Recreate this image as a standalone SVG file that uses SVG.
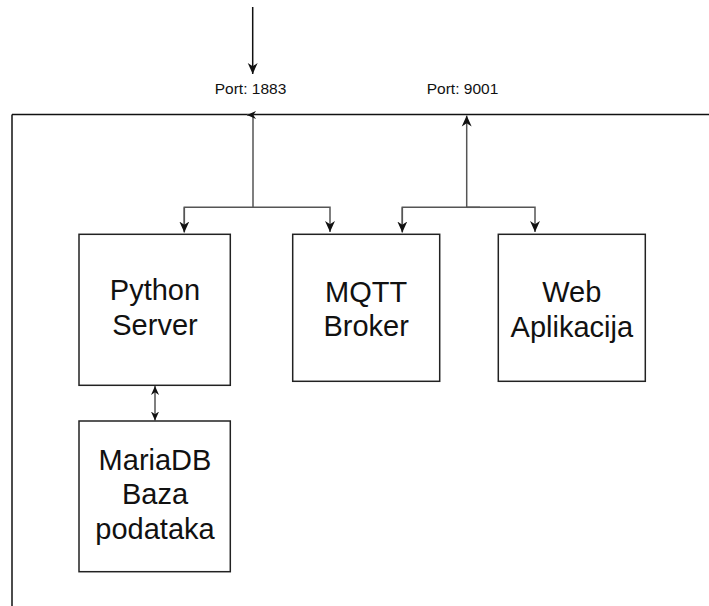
<svg xmlns="http://www.w3.org/2000/svg" width="709" height="606" viewBox="0 0 709 606">
  <style>
    .box { fill: #ffffff; stroke: #222222; stroke-width: 1.5; }
    .lbl { font-family: "Liberation Sans", Arial, sans-serif; font-size: 29px; fill: #111111; text-anchor: middle; }
    .port { font-family: "Liberation Sans", Arial, sans-serif; font-size: 15.5px; fill: #111111; text-anchor: middle; }
    .edge { fill: none; stroke: #555555; stroke-width: 1.5; }
    .frame { fill: none; stroke: #111111; stroke-width: 1.5; }
  </style>
  <defs>
    <marker id="arr" viewBox="0 0 10 10" refX="10" refY="5" markerWidth="11" markerHeight="11" markerUnits="userSpaceOnUse" orient="auto">
      <path d="M0,0.5 L10,5 L0,9.5 L3,5 z" fill="#111111"/>
    </marker>
    <marker id="arrS" viewBox="0 0 10 10" refX="10" refY="5" markerWidth="9" markerHeight="9" markerUnits="userSpaceOnUse" orient="auto">
      <path d="M0,0.5 L10,5 L0,9.5 L3,5 z" fill="#111111"/>
    </marker>
    <marker id="arrStart" viewBox="0 0 10 10" refX="10" refY="5" markerWidth="9" markerHeight="9" markerUnits="userSpaceOnUse" orient="auto-start-reverse">
      <path d="M0,0.5 L10,5 L0,9.5 L3,5 z" fill="#111111"/>
    </marker>
  </defs>

  <g id="frame">
    <line class="frame" x1="12" y1="114.5" x2="709" y2="114.5"/>
    <line class="frame" x1="12" y1="114.5" x2="12" y2="606"/>
  </g>

  <g id="ports">
    <text class="port" x="250.5" y="94">Port: 1883</text>
    <text class="port" x="462.5" y="94">Port: 9001</text>
  </g>

  <g id="connectors">
    <line x1="252.7" y1="7" x2="252.7" y2="74" stroke="#111111" stroke-width="1.5" marker-end="url(#arr)"/>
    <path class="edge" d="M253,207.3 L253,115 L247,115" marker-end="url(#arrS)"/>
    <path class="edge" d="M184.3,232 L184.3,207.3 L330,207.3 L330,232" marker-end="url(#arr)"/>
    <line class="edge" x1="184.3" y1="207.3" x2="184.3" y2="232.5" marker-end="url(#arr)"/>
    <path class="edge" d="M466.7,207.3 L466.7,115.5" marker-end="url(#arr)"/>
    <path class="edge" d="M402.3,232 L402.3,207.3 L535,207.3 L535,232" marker-end="url(#arr)"/>
    <line class="edge" x1="402.3" y1="207.3" x2="402.3" y2="232.5" marker-end="url(#arr)"/>
    <line class="edge" x1="466.7" y1="207.3" x2="480" y2="207.3"/>
    <line class="edge" x1="155" y1="386" x2="155" y2="420.5" marker-start="url(#arrStart)" marker-end="url(#arrStart)"/>
  </g>

  <g id="python-server">
    <rect class="box" x="79" y="234.3" width="151.3" height="151"/>
    <text class="lbl" x="155" y="300">Python</text>
    <text class="lbl" x="155" y="335">Server</text>
  </g>

  <g id="mqtt-broker">
    <rect class="box" x="292.7" y="234.3" width="147" height="147"/>
    <text class="lbl" x="366.2" y="301.5">MQTT</text>
    <text class="lbl" x="366.2" y="335.5">Broker</text>
  </g>

  <g id="web-aplikacija">
    <rect class="box" x="498.3" y="234.3" width="147" height="147"/>
    <text class="lbl" x="571.8" y="302">Web</text>
    <text class="lbl" x="571.8" y="337">Aplikacija</text>
  </g>

  <g id="mariadb">
    <rect class="box" x="79" y="421" width="151.3" height="150.7"/>
    <text class="lbl" x="155" y="469.5">MariaDB</text>
    <text class="lbl" x="155" y="504">Baza</text>
    <text class="lbl" x="155" y="538.5">podataka</text>
  </g>
</svg>
